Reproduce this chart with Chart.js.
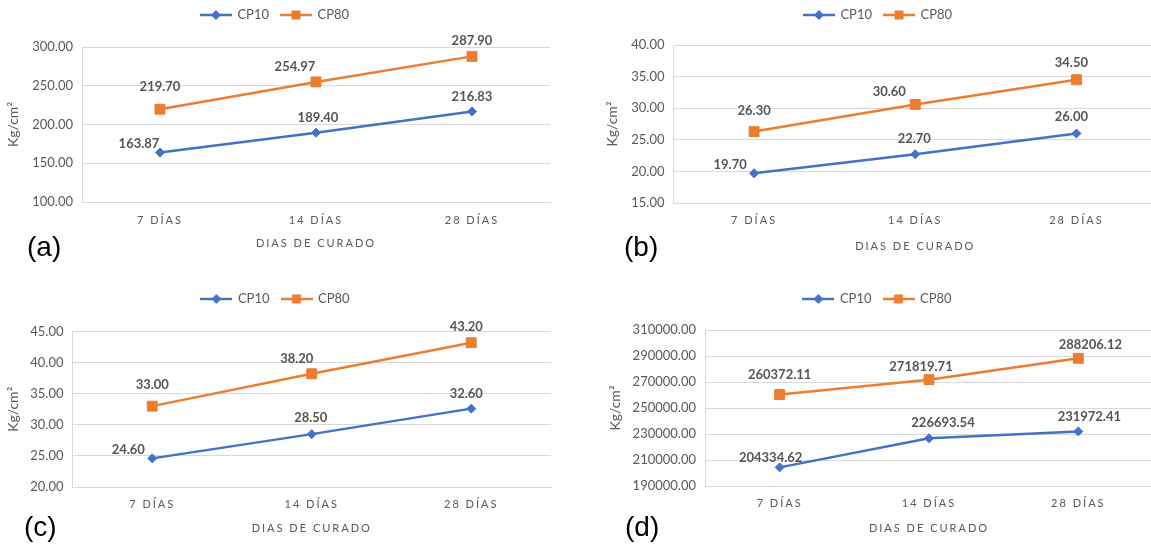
<!DOCTYPE html>
<html>
<head>
<meta charset="utf-8">
<script src="https://cdn.jsdelivr.net/npm/chart.js@4.4.1/dist/chart.umd.min.js"></script>
<style>
  html, body { margin: 0; padding: 0; background: #ffffff; }
  body { width: 1151px; height: 548px; overflow: hidden; position: relative; }
  canvas { position: absolute; }
  .tag { position: absolute; font-family: "Liberation Sans", Arial, sans-serif; font-size: 28px; line-height: 28px; color: #000; }
</style>
</head>
<body>
<canvas id="chartA" width="560" height="274" style="left:0px;top:0px"></canvas>
<canvas id="chartB" width="570" height="274" style="left:599px;top:0px"></canvas>
<canvas id="chartC" width="561" height="274" style="left:0px;top:274px"></canvas>
<canvas id="chartD" width="563" height="274" style="left:602px;top:274px"></canvas>
<div class="tag" style="left:27px;top:233px">(a)</div>
<div class="tag" style="left:624px;top:233px">(b)</div>
<div class="tag" style="left:24px;top:513px">(c)</div>
<div class="tag" style="left:625px;top:513px">(d)</div>
<script>
// Curing ages and the two mixes
const categories = ['7 DÍAS', '14 DÍAS', '28 DÍAS'];
const seriesNames = ['CP10', 'CP80'];
const xTitle = 'DIAS DE CURADO';
const yTitle = 'Kg/cm²';

// (a)
const aCP10 = [163.87, 189.40, 216.83];
const aCP80 = [219.70, 254.97, 287.90];
const aTicks = [100, 150, 200, 250, 300];
// (b)
const bCP10 = [19.70, 22.70, 26.00];
const bCP80 = [26.30, 30.60, 34.50];
const bTicks = [15, 20, 25, 30, 35, 40];
// (c)
const cCP10 = [24.60, 28.50, 32.60];
const cCP80 = [33.00, 38.20, 43.20];
const cTicks = [20, 25, 30, 35, 40, 45];
// (d)
const dCP10 = [204334.62, 226693.54, 231972.41];
const dCP80 = [260372.11, 271819.71, 288206.12];
const dTicks = [190000, 210000, 230000, 250000, 270000, 290000, 310000];

// Look of each series
const seriesStyle = [
  { color: '#4472C4', point: 'rectRot', radius: 4.5, shape: 'diamond' },
  { color: '#ED7D31', point: 'rect', radius: 7, shape: 'square' }
];
const TEXT = '#595959';
const GRID = '#d9d9d9';

// Frame of every panel: y axis width, plot top/bottom (canvas px), legend row, padding
const frames = {
  chartA: { axisW: 82, plotTop: 47, plotBottom: 202, legendY: 15, padRight: 10, tickPad: 11.4, titlePad: 24.4,
            nudge: [[[-21, -9], [2, -15], [0, -15]], [[0, -22], [-21, -15], [0, -16]]] },
  chartB: { axisW: 74.5, plotTop: 45, plotBottom: 203, legendY: 15, padRight: 12, tickPad: 10.4, titlePad: 21.4,
            nudge: [[[-24, -8], [-1, -16], [-5, -17]], [[0, -21], [-26, -13], [-5, -17]]] },
  chartC: { axisW: 72.5, plotTop: 57.5, plotBottom: 213, legendY: 25, padRight: 10, tickPad: 10.4, titlePad: 13.4,
            nudge: [[[-24, -9], [-1, -16], [-5, -15]], [[0, -21], [-15, -15], [-5, -16]]] },
  chartD: { axisW: 103, plotTop: 56, plotBottom: 212, legendY: 25, padRight: 12, tickPad: 10.4, titlePad: 13.4,
            nudge: [[[-9, -10], [14, -15], [11, -15]], [[0, -20], [-8, -13], [12, -14]]] }
};

const LEGEND_FONT = 13, LEGEND_PAD = 12;

// Legend swatch: a short line with the series marker in its middle
function legendSwatch(style) {
  const c = document.createElement('canvas');
  c.width = 32; c.height = 12;
  const g = c.getContext('2d');
  g.strokeStyle = style.color; g.fillStyle = style.color; g.lineWidth = 2.5;
  g.beginPath(); g.moveTo(0, 6); g.lineTo(32, 6); g.stroke();
  if (style.shape === 'diamond') {
    g.beginPath(); g.moveTo(16, 1); g.lineTo(21, 6); g.lineTo(16, 11); g.lineTo(11, 6); g.closePath(); g.fill();
  } else {
    g.fillRect(11.5, 1.5, 9, 9);
  }
  return c;
}
const swatches = seriesStyle.map(legendSwatch);

// Value labels next to each point
const valueLabels = {
  id: 'valueLabels',
  afterDatasetsDraw(chart, args, opts) {
    const ctx = chart.ctx;
    ctx.save();
    ctx.font = 'bold 13px Lato';
    ctx.fillStyle = '#555555';
    ctx.textAlign = 'center';
    ctx.textBaseline = 'middle';
    chart.data.datasets.forEach((ds, i) => {
      chart.getDatasetMeta(i).data.forEach((pt, j) => {
        const n = opts.nudge[i][j];
        ctx.fillText(ds.data[j].toFixed(2), pt.x + n[0], pt.y + n[1]);
      });
    });
    ctx.restore();
  }
};

// Letter-spaced category labels and axis title
const spacedAxis = {
  id: 'spacedAxis',
  beforeDraw(chart) {
    const x = chart.scales.x;
    if (!x || x._spaced) return;
    x._spaced = true;
    const wrap = fn => function (...a) {
      const c = this.ctx; c.save(); c.letterSpacing = '2px'; fn.apply(this, a); c.restore();
    };
    x.drawLabels = wrap(x.drawLabels);
    x.drawTitle = wrap(x.drawTitle);
  }
};

// Leaves room between the legend row and the plot
const legendGap = {
  id: 'legendGap',
  beforeLayout(chart, args, opts) {
    const lg = chart.legend;
    if (!lg || lg._gap) return;
    lg._gap = true;
    const fit = lg.fit;
    lg.fit = function () { fit.call(this); this.height = opts.height; };
  }
};

function build(id, cp10, cp80, yTicks) {
  const f = frames[id];
  const canvas = document.getElementById(id);
  const padTop = f.legendY - LEGEND_PAD - LEGEND_FONT / 2;
  const series = [cp10, cp80];
  return new Chart(canvas, {
    type: 'line',
    data: {
      labels: categories,
      datasets: series.map((vals, i) => ({
        label: seriesNames[i],
        data: vals,
        borderColor: seriesStyle[i].color,
        backgroundColor: seriesStyle[i].color,
        borderWidth: 2.5,
        tension: 0,
        pointStyle: seriesStyle[i].point,
        pointRadius: seriesStyle[i].radius,
        pointBorderWidth: 1,
        pointBackgroundColor: seriesStyle[i].color,
        pointBorderColor: seriesStyle[i].color
      }))
    },
    options: {
      responsive: false,
      animation: false,
      layout: { padding: { top: padTop, right: f.padRight, bottom: 0, left: 0 } },
      plugins: {
        legend: {
          position: 'top',
          labels: {
            usePointStyle: true,
            pointStyleWidth: 30,
            padding: LEGEND_PAD,
            color: TEXT,
            font: { family: 'Lato', size: LEGEND_FONT },
            generateLabels(chart) {
              const items = Chart.defaults.plugins.legend.labels.generateLabels(chart);
              items.forEach(it => { it.pointStyle = swatches[it.datasetIndex]; });
              return items;
            }
          }
        },
        tooltip: { enabled: false },
        legendGap: { height: f.plotTop - padTop },
        valueLabels: { nudge: f.nudge }
      },
      scales: {
        x: {
          type: 'category',
          offset: true,
          afterFit: s => { s.height = canvas.height - f.plotBottom; },
          grid: { display: false, drawTicks: false },
          border: { display: true, color: GRID, width: 1 },
          ticks: { padding: f.tickPad, color: TEXT, font: { family: 'Lato', size: 11 }, maxRotation: 0 },
          title: { display: true, text: xTitle, color: TEXT, font: { family: 'Lato', size: 11 },
                   padding: { top: 4, bottom: f.titlePad } }
        },
        y: {
          min: yTicks[0],
          max: yTicks[yTicks.length - 1],
          afterBuildTicks: s => { s.ticks = yTicks.map(v => ({ value: v })); },
          afterFit: s => { s.width = f.axisW; },
          grid: { color: GRID, lineWidth: 1, drawTicks: false },
          border: { display: true, color: GRID, width: 1 },
          ticks: { padding: 9, color: TEXT, font: { family: 'Lato', size: 13 },
                   callback: v => Number(v).toFixed(2) },
          title: { display: true, text: yTitle, color: TEXT, font: { family: 'Lato', size: 14 },
                   padding: { top: 5.5, bottom: 0 } }
        }
      }
    },
    plugins: [valueLabels, spacedAxis, legendGap]
  });
}

build('chartA', aCP10, aCP80, aTicks);
build('chartB', bCP10, bCP80, bTicks);
build('chartC', cCP10, cCP80, cTicks);
build('chartD', dCP10, dCP80, dTicks);
</script>
</body>
</html>
